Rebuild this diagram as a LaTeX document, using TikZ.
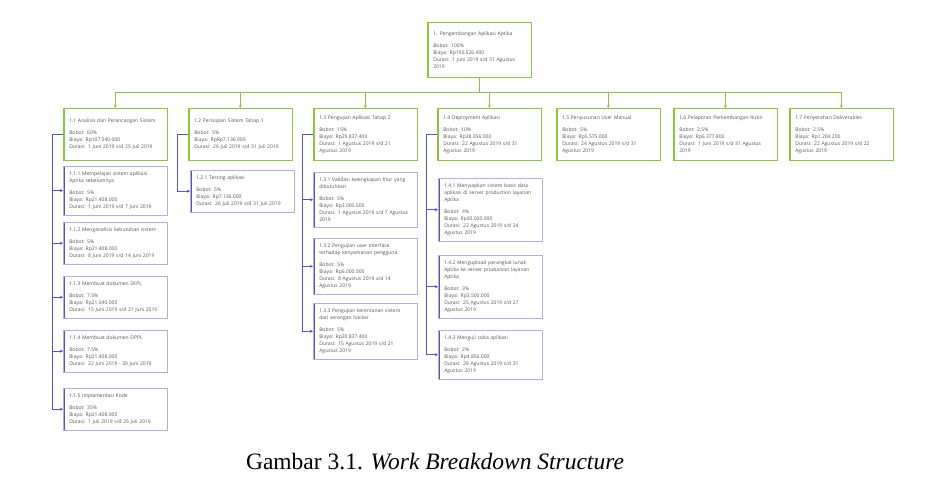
\documentclass[tikz,border=0pt]{standalone}
\usepackage{fontspec}
\setmainfont{Liberation Serif}
\newfontfamily\wbsfont{Open Sans}
\usetikzlibrary{arrows.meta,positioning}

\definecolor{wbsgreen}{HTML}{8CC63F}
\definecolor{wbsblue}{HTML}{5555B8}
\definecolor{wbslav}{HTML}{B0B0DE}
\definecolor{wbstext}{HTML}{555555}

\begin{document}
\begin{tikzpicture}[x=1pt, y=-1pt,
      >={Stealth[length=3pt,width=3pt]},
      every node/.append style={align=left, text=wbstext,
        font=\wbsfont\fontsize{5}{7}\selectfont},
      box/.style={draw, anchor=north west, text width=92pt, inner xsep=6pt,
        inner ysep=5.5pt, fill=white, line width=0.5pt},
      greenbox/.style={box, draw=wbsgreen, path picture={
        \fill[wbsgreen] (path picture bounding box.north west)
          rectangle ([xshift=1.8pt]path picture bounding box.south west);}},
      taskbox/.style={greenbox, minimum height=52pt},
      subbox/.style={box, draw=wbslav, path picture={
        \fill[wbsblue] (path picture bounding box.north west)
          rectangle ([xshift=1.8pt]path picture bounding box.south west);}},
      gline/.style={draw=wbsgreen, line width=0.6pt},
      bline/.style={draw=wbsblue, line width=0.8pt}]

  \useasboundingbox (0,0) rectangle (944,477);

  % root
  \node [greenbox, minimum height=55pt] (root) at (427,22)
    {1. Pengembangan Aplikasi Aptika\\[5pt] Bobot: 100\%\\ Biaya: Rp195.526.400\\
     Durasi: 1 Juni 2019 s/d 31 Agustus\\ 2019};

  % level 1
  \node [taskbox] (t1) at (63,108)
    {1.1 Analisis dan Perancangan Sistem\\[5pt] Bobot: 60\%\\ Biaya: Rp107.040.000\\
     Durasi: 1 Juni 2019 s/d 25 Juli 2019};
  \node [taskbox] (t2) at (188,108)
    {1.2 Persiapan Sistem Tahap 1\\[5pt] Bobot: 5\%\\ Biaya: RpRp7.136.000\\
     Durasi: 26 Juli 2019 s/d 31 Juli 2019};
  \node [taskbox] (t3) at (313,108)
    {1.3 Pengujian Aplikasi Tahap 2\\[5pt] Bobot: 15\%\\ Biaya: Rp29.837.400\\
     Durasi: 1 Agustus 2019 s/d 21\\ Agustus 2019};
  \node [taskbox] (t4) at (437,108)
    {1.4 Deployment Aplikasi\\[5pt] Bobot: 10\%\\ Biaya: Rp38.356.000\\
     Durasi: 22 Agustus 2019 s/d 31\\ Agustus 2019};
  \node [taskbox] (t5) at (556,108)
    {1.5 Penyusunan User Manual\\[5pt] Bobot: 5\%\\ Biaya: Rp5.575.000\\
     Durasi: 24 Agustus 2019 s/d 31\\ Agustus 2019};
  \node [taskbox] (t6) at (673,108)
    {1.6 Pelaporan Perkembangan Rutin\\[5pt] Bobot: 2.5\%\\ Biaya: Rp6.377.800\\
     Durasi: 1 Juni 2019 s/d 31 Agustus\\ 2019};
  \node [taskbox] (t7) at (789,108)
    {1.7 Penyerahan Deliverables\\[5pt] Bobot: 2.5\%\\ Biaya: Rp1.204.200\\
     Durasi: 22 Agustus 2019 s/d 22\\ Agustus 2019};

  % level 2
  \node [subbox] (s11) at (63,166)
    {1.1.1 Mempelajari sistem aplikasi\\ Aptika sebelumnya\\[5pt] Bobot: 5\%\\
     Biaya: Rp21.408.000\\ Durasi: 1 Juni 2019 s/d 7 Juni 2019};
  \node [subbox] (s12) at (63,222)
    {1.1.2 Menganalisis kebutuhan sistem\\[5pt] Bobot: 5\%\\
     Biaya: Rp21.408.000\\ Durasi: 8 Juni 2019 s/d 14 Juni 2019};
  \node [subbox] (s13) at (63,276)
    {1.1.3 Membuat dokumen SKPL\\[5pt] Bobot: 7.5\%\\
     Biaya: Rp21.040.000\\ Durasi: 15 Juni 2019 s/d 21 Juni 2019};
  \node [subbox] (s14) at (63,330)
    {1.1.4 Membuat dokumen DPPL\\[5pt] Bobot: 7.5\%\\
     Biaya: Rp21.408.000\\ Durasi: 22 Juni 2019 - 30 Juni 2019};
  \node [subbox] (s15) at (63,388)
    {1.1.5 Implementasi Kode\\[5pt] Bobot: 35\%\\
     Biaya: Rp21.408.000\\ Durasi: 1 Juli 2019 s/d 25 Juli 2019};

  \node [subbox] (s21) at (190,170)
    {1.2.1 Testing aplikasi\\[5pt] Bobot: 5\%\\
     Biaya: Rp7.136.000\\ Durasi: 26 Juli 2019 s/d 31 Juli 2019};

  \node [subbox] (s31) at (313,172)
    {1.3.1 Validasi kelengkapan fitur yang\\ dibutuhkan\\[5pt] Bobot: 5\%\\
     Biaya: Rp3.000.000\\ Durasi: 1 Agustus 2019 s/d 7 Agustus\\ 2019};
  \node [subbox] (s32) at (313,238)
    {1.3.2 Pengujian user interface\\ terhadap kenyamanan pengguna\\[5pt] Bobot: 5\%\\
     Biaya: Rp6.000.000\\ Durasi: 8 Agustus 2019 s/d 14\\ Agustus 2019};
  \node [subbox] (s33) at (313,303)
    {1.3.3 Pengujian kerentanan sistem\\ dari serangan hacker\\[5pt] Bobot: 5\%\\
     Biaya: Rp20.837.400\\ Durasi: 15 Agustus 2019 s/d 21\\ Agustus 2019};

  \node [subbox] (s41) at (438,178)
    {1.4.1 Menyiapkan sistem basis data\\ aplikasi di server production layanan\\
     Aptika\\[5pt] Bobot: 4\%\\ Biaya: Rp30.000.000\\
     Durasi: 22 Agustus 2019 s/d 24\\ Agustus 2019};
  \node [subbox] (s42) at (438,255)
    {1.4.2 Mengupload perangkat lunak\\ Aptika ke server production layanan\\
     Aptika\\[5pt] Bobot: 3\%\\ Biaya: Rp3.500.000\\
     Durasi: 25 Agustus 2019 s/d 27\\ Agustus 2019};
  \node [subbox] (s43) at (438,330)
    {1.4.3 Menguji coba aplikasi\\[5pt] Bobot: 2\%\\ Biaya: Rp4.856.000\\
     Durasi: 28 Agustus 2019 s/d 31\\ Agustus 2019};

  % connectors
  \coordinate (bus) at (root.south |- 0,92);
  \draw[gline] (root.south) -- (bus);
  \foreach \t in {t1,t2,t3,t4,t5,t6,t7}
    \draw[gline,->] (bus) -| (\t.north);

  \foreach \p/\c in {t1/s11,t1/s12,t1/s13,t1/s14,t1/s15,t2/s21,
                     t3/s31,t3/s32,t3/s33,t4/s41,t4/s42,t4/s43}
    \draw[bline,->] (\p.west) -- ++(-11,0) |- (\c.west);

  % caption
  \node [font=\fontsize{23.5}{28}\selectfont, text=black] (caption) at (435,462)
    {Gambar 3.1. \textit{Work Breakdown Structure}};
\end{tikzpicture}
\end{document}
